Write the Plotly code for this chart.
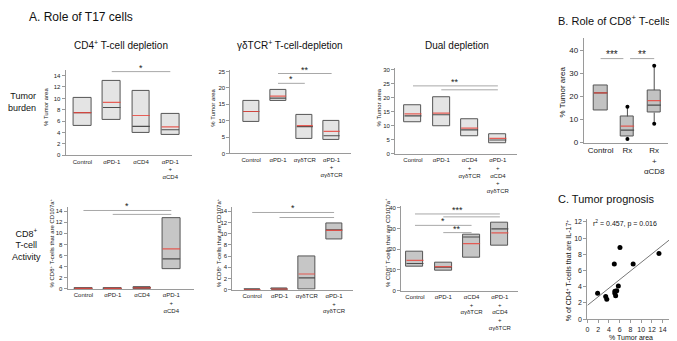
import plotly.graph_objects as go

W, H = 677, 341
FONT = "Liberation Sans, Arial, sans-serif"

# ---------------- data ----------------
cats_cd4 = ["Control", "αPD-1", "αCD4", "αPD-1<br>+<br>αCD4"]
cats_gd = ["Control", "αPD-1", "αγδTCR", "αPD-1<br>+<br>αγδTCR"]
cats_dual = ["Control", "αPD-1", "αCD4<br>+<br>αγδTCR", "αPD-1<br>+<br>αCD4<br>+<br>αγδTCR"]
cats_b = ["Control", "Rx", "Rx<br>+<br>αCD8"]

# Tumor burden (% tumor area)
tumor_cd4_q1 = [5.2, 6.2, 3.9, 3.6]
tumor_cd4_q3 = [10.1, 13.1, 11.3, 7.2]
tumor_cd4_med = [7.5, 8.4, 5.1, 4.5]
tumor_cd4_mean = [7.5, 9.3, 7.0, 5.0]

tumor_gd_q1 = [9.5, 16.1, 4.4, 4.1]
tumor_gd_q3 = [16.1, 19.3, 11.8, 10.0]
tumor_gd_med = [12.8, 16.9, 8.2, 5.4]
tumor_gd_mean = [12.8, 17.5, 8.5, 6.7]

tumor_dual_q1 = [11.3, 9.8, 6.1, 3.7]
tumor_dual_q3 = [17.3, 20.1, 12.3, 7.0]
tumor_dual_med = [13.5, 13.9, 8.5, 4.9]
tumor_dual_mean = [14.2, 14.5, 9.1, 5.5]

# CD8+ T-cell activity (% CD107a+)
act_cd4_q1 = [0.0, 0.0, 0.0, 3.65]
act_cd4_q3 = [0.15, 0.15, 0.35, 12.7]
act_cd4_med = [0.1, 0.1, 0.25, 5.4]
act_cd4_mean = [0.1, 0.1, 0.2, 7.2]

act_gd_q1 = [0.0, 0.0, 0.1, 9.0]
act_gd_q3 = [0.05, 0.15, 6.0, 11.9]
act_gd_med = [0.0, 0.05, 2.1, 10.7]
act_gd_mean = [0.02, 0.1, 2.8, 10.6]

act_dual_q1 = [11.6, 9.8, 15.9, 21.6]
act_dual_q3 = [18.7, 13.5, 27.0, 32.8]
act_dual_med = [13.1, 11.3, 25.9, 29.8]
act_dual_mean = [14.6, 11.6, 22.7, 27.9]

# B. Role of CD8+ T-cells
b_q1 = [13.9, 2.5, 13.0]
b_q3 = [24.9, 11.3, 22.7]
b_med = [21.5, 5.4, 16.2]
b_mean = [21.5, 7.1, 18.1]
b_whisk_lo = [None, 1.6, 8.2]
b_whisk_hi = [None, 15.5, 33.2]

# significance bars: (from, to, height, label)
sig_tumor_cd4 = [(1, 3, 14.7, "*")]
sig_tumor_gd = [(1, 3, 24.4, "**"), (1, 2, 21.4, "*")]
sig_tumor_dual = [(0, 3, 24.2, "**"), (1, 3, 22.8, "")]
sig_act_cd4 = [(0, 3, 14.1, "*"), (1, 3, 13.4, "")]
sig_act_gd = [(0, 3, 13.8, "*"), (1, 3, 12.9, "")]
sig_act_dual = [(0, 3, 37.0, "***"), (1, 3, 35.6, ""), (0, 2, 31.5, "*"), (1, 2, 28.0, "**")]
sig_b = [(0, 0.85, 36.3, "***"), (1.1, 2, 36.3, "**")]

# C. Tumor prognosis
c_tumor_area = [1.9, 3.4, 3.6, 5.0, 5.1, 5.1, 5.25, 5.45, 5.75, 6.05, 8.5, 13.3]
c_il17 = [3.2, 2.8, 2.45, 6.8, 3.45, 3.2, 2.9, 3.5, 4.1, 8.85, 6.8, 8.1]
c_fit_intercept = 1.7
c_fit_slope = 0.53
c_fit_x = [0, 16]
c_stat_text = "r<sup>2</sup> = 0.457, p = 0.016"

# ---------------- figure ----------------
fig = go.Figure()
layout = dict(
    width=W, height=H, margin=dict(l=0, r=0, t=0, b=0),
    paper_bgcolor="white", plot_bgcolor="white", showlegend=False,
    font=dict(family=FONT, color="#222"),
)
annotations = []
shapes = []

RED = "rgba(232,70,62,0.85)"
DARK = "#4d4d4d"
AXC = "#9a9a9a"


def xdom(a, b):
    return [a / W, b / W]


def ydom(top, bottom):
    return [1 - bottom / H, 1 - top / H]


def add_axes(i, xd, yd, xr, yr, dtick, tickvals=None, ticktext=None, tfs=6, cfs=6, xticks=""):
    xa = dict(domain=xd, range=xr, anchor="y%d" % i if i > 1 else "y",
              showline=True, linecolor=AXC, linewidth=1, showgrid=False, zeroline=False,
              ticks=xticks, ticklen=3, tickcolor=AXC, tickfont=dict(size=cfs, color="#222"), fixedrange=True)
    if tickvals is not None:
        xa.update(tickmode="array", tickvals=tickvals, ticktext=ticktext)
    else:
        xa.update(dtick=dtick[0], tick0=0)
        xa["tickfont"] = dict(size=tfs, color="#222")
    ya = dict(domain=yd, range=yr, anchor="x%d" % i if i > 1 else "x",
              showline=True, linecolor=AXC, linewidth=1, showgrid=False, zeroline=False,
              ticks="outside", ticklen=3, tickcolor=AXC, dtick=dtick[1], tick0=0,
              tickfont=dict(size=tfs, color="#222"), fixedrange=True)
    k = "" if i == 1 else str(i)
    layout["xaxis" + k] = xa
    layout["yaxis" + k] = ya
    return ("x" + k, "y" + k)


def add_box_panel(i, cats, q1, q3, med, mean, xpx, ypx, c0, step, yr, dy, fill, sig,
                  tfs=6, cfs=6, bw=0.6, wlo=None, whi=None, starsize=9):
    xr = [(xpx[0] - c0) / step, (xpx[1] - c0) / step]
    pos = list(range(len(cats)))
    xa, ya = add_axes(i, xdom(*xpx), ydom(*ypx), xr, yr, (1, dy), pos, cats, tfs, cfs)
    # whiskers
    if wlo is not None:
        wx, wy, mx, my = [], [], [], []
        for p, lo, hi, a, b in zip(pos, wlo, whi, q1, q3):
            if lo is None:
                continue
            wx += [p, p, None, p, p, None]
            wy += [lo, a, None, b, hi, None]
            mx += [p, p]
            my += [lo, hi]
        fig.add_trace(go.Scatter(x=wx, y=wy, mode="lines", line=dict(color=DARK, width=1),
                                 xaxis=xa, yaxis=ya, hoverinfo="skip"))
        fig.add_trace(go.Scatter(x=mx, y=my, mode="markers", marker=dict(color="black", size=4),
                                 xaxis=xa, yaxis=ya, hoverinfo="skip"))
    fig.add_trace(go.Bar(x=pos, y=[b - a for a, b in zip(q1, q3)], base=q1, width=bw,
                         marker=dict(color=fill, line=dict(color="#555", width=1)),
                         xaxis=xa, yaxis=ya, hoverinfo="skip"))
    for vals, col, wdt in ((med, DARK, 1.2), (mean, RED, 1.2)):
        sx, sy = [], []
        for p, v in zip(pos, vals):
            sx += [p - bw / 2, p + bw / 2, None]
            sy += [v, v, None]
        fig.add_trace(go.Scatter(x=sx, y=sy, mode="lines", line=dict(color=col, width=wdt),
                                 xaxis=xa, yaxis=ya, hoverinfo="skip"))
    for a, b, h, lab in sig:
        shapes.append(dict(type="line", xref=xa, yref=ya, x0=a, x1=b, y0=h, y1=h,
                           line=dict(color="#a8a8a8", width=1)))
        if lab:
            annotations.append(dict(xref=xa, yref=ya, x=(a + b) / 2, y=h, text=lab, showarrow=False,
                                    yanchor="bottom", yshift=-3, font=dict(size=starsize, color="#222")))


# Panel A top row: tumor burden
add_box_panel(1, cats_cd4, tumor_cd4_q1, tumor_cd4_q3, tumor_cd4_med, tumor_cd4_mean,
              (56, 183), (62, 149), 73, 29.5, [0, 15], 2, "#e4e4e4", sig_tumor_cd4)
add_box_panel(2, cats_gd, tumor_gd_q1, tumor_gd_q3, tumor_gd_med, tumor_gd_mean,
              (222, 344), (62, 147), 243, 27, [0, 25.5], 5, "#e4e4e4", sig_tumor_gd)
add_box_panel(3, cats_dual, tumor_dual_q1, tumor_dual_q3, tumor_dual_med, tumor_dual_mean,
              (388, 511), (60.3, 147.3), 406, 28.5, [0, 30.5], 5, "#e4e4e4", sig_tumor_dual)
# Panel A bottom row: CD8 activity
add_box_panel(4, cats_cd4, act_cd4_q1, act_cd4_q3, act_cd4_med, act_cd4_mean,
              (58, 185), (201.7, 285), 74, 29.5, [0, 14.7], 2, "#c6c6c6", sig_act_cd4)
add_box_panel(5, cats_gd, act_gd_q1, act_gd_q3, act_gd_med, act_gd_mean,
              (224, 346), (202, 285.7), 244, 27.5, [0, 14.7], 2, "#c6c6c6", sig_act_gd)
add_box_panel(6, cats_dual, act_dual_q1, act_dual_q3, act_dual_med, act_dual_mean,
              (394, 512), (200.2, 286.7), 408, 28.5, [0, 41], 10, "#c6c6c6", sig_act_dual)
# Panel B
add_box_panel(7, cats_b, b_q1, b_q3, b_med, b_mean,
              (578, 663), (30, 136), 595, 27, [0, 45], 10, "#c2c2c2", sig_b,
              tfs=8, cfs=8, bw=0.5, wlo=b_whisk_lo, whi=b_whisk_hi, starsize=10)

# Panel C scatter
xa, ya = add_axes(8, xdom(581.7, 669.5), ydom(214.2, 315.7), [0, 16.2], [0, 12.3], (2, 2),
                  tfs=7, xticks="outside")
fig.add_trace(go.Scatter(x=c_fit_x, y=[c_fit_intercept + c_fit_slope * v for v in c_fit_x],
                         mode="lines", line=dict(color="#777", width=1), xaxis=xa, yaxis=ya,
                         hoverinfo="skip"))
fig.add_trace(go.Scatter(x=c_tumor_area, y=c_il17, mode="markers",
                         marker=dict(color="black", size=5), xaxis=xa, yaxis=ya, hoverinfo="skip"))


def txt(x, y, text, size, xanchor="center", angle=0, align="center", color="#111"):
    annotations.append(dict(xref="paper", yref="paper", x=x / W, y=1 - y / H, text=text,
                            showarrow=False, xanchor=xanchor, yanchor="middle", textangle=angle,
                            align=align, font=dict(size=size, color=color, family=FONT)))


# titles
txt(17, 8, "A. Role of T17 cells", 12, "left")
txt(550, 11, "B. Role of CD8<sup>+</sup> T-cells", 11, "left")
txt(550, 193, "C. Tumor prognosis", 11, "left")
txt(112, 37, "CD4<sup>+</sup> T-cell depletion", 10)
txt(282, 37, "γδTCR<sup>+</sup> T-cell-depletion", 10)
txt(450, 37, "Dual depletion", 10)
# row labels
txt(28, 95, "Tumor<br>burden", 9, "right", align="right")
txt(17, 240, "CD8<sup>+</sup><br>T-cell<br>Activity", 9)
# y titles
for x in (37, 205, 372):
    txt(x, 100, "% Tumor area", 6, angle=-90)
for x in (42, 210, 380):
    txt(x, 238, "% CD8<sup>+</sup> T-cells that are CD107a<sup>+</sup>", 6, angle=-90)
txt(557, 84, "% Tumor area", 8, angle=-90)
txt(563, 266, "% of CD4<sup>+</sup> T-cells that are IL-17<sup>+</sup>", 7, angle=-90)
txt(626, 334, "% Tumor area", 7)
txt(585, 218, c_stat_text, 7, "left")

layout["annotations"] = annotations
layout["shapes"] = shapes
layout["bargap"] = 0
fig.update_layout(**layout)
fig.write_html("out.html")
